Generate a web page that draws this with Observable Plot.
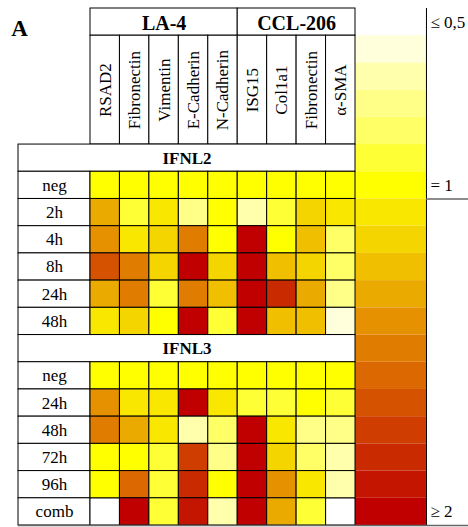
<!DOCTYPE html>
<html>
<head>
<meta charset="utf-8">
<script src="https://cdn.jsdelivr.net/npm/d3@7"></script>
<script src="https://cdn.jsdelivr.net/npm/@observablehq/plot@0.6"></script>
<style>
  html, body { margin: 0; padding: 0; background: #fff; }
  #chart svg { display: block; font-family: "Liberation Serif", serif !important; }
  #chart svg text { font-family: "Liberation Serif", serif !important; }
</style>
</head>
<body>
<div id="chart"></div>
<script>
// ---------- data ----------
const panelLabel = "A";
const cellLineNames = ["LA-4", "CCL-206"];
const cellLineGeneCounts = [5, 4];
const genes = ["RSAD2", "Fibronectin", "Vimentin", "E-Cadherin", "N-Cadherin",
               "ISG15", "Col1a1", "Fibronectin", "α-SMA"];

const ifnl2Name = "IFNL2";
const ifnl2Times = ["neg", "2h", "4h", "8h", "24h", "48h"];
const ifnl2Values = [
  [1, 1, 1, 1, 1, 1, 1, 1, 1],
  [1.33, 0.9, 1.08, 0.7, 1, 0.6, 0.9, 1.17, 1.08],
  [1.42, 1.08, 1.17, 1.5, 1, 2, 1, 1.25, 0.8],
  [1.67, 1.5, 1.17, 2, 1.17, 2, 1.25, 1.17, 0.8],
  [1.33, 1.5, 0.9, 1.5, 1.25, 2, 1.83, 1.33, 0.7],
  [1.08, 1.17, 1, 2, 0.9, 2, 1.25, 1.25, 0.5]
];

const ifnl3Name = "IFNL3";
const ifnl3Times = ["neg", "24h", "48h", "72h", "96h", "comb"];
const ifnl3Values = [
  [1, 1, 1, 1, 1, 1, 1, 1, 1],
  [1.42, 1.08, 1.08, 2, 1.08, 0.9, 0.9, 1, 0.9],
  [1.5, 1.33, 1.08, 0.6, 0.8, 2, 1.08, 0.7, 0.7],
  [1, 1, 0.9, 1.75, 0.7, 2, 1.17, 0.8, 0.6],
  [1, 1.58, 0.9, 1.83, 1, 2, 1.42, 1.08, 0.6],
  [null, 2, 0.9, 1.92, 0.6, 2, 1.33, 0.9, null]
];

// legend: value each block stands for, and its colour
const legendValues = [0.5, 0.6, 0.7, 0.8, 0.9, 1.0,
  1.083, 1.167, 1.25, 1.333, 1.417, 1.5, 1.583, 1.667, 1.75, 1.833, 1.917, 2.0];
const legendColors = ["#ffffdc", "#ffffac", "#ffff88", "#ffff66", "#ffff36", "#ffff00",
  "#fae700", "#f5d500", "#f0c000", "#ebaa00", "#e69200", "#e07c00",
  "#db6800", "#d55300", "#cf3e00", "#c92a00", "#c41500", "#c00000"];
const legendLabels = ["≤ 0,5", "= 1", "≥ 2"];
const legendLabelBlocks = [-1, 5, 17];   // block index each label sits beside

// ---------- layout (column / row units) ----------
const LX0 = -2.445;   // left edge of the row-label column
const LX1 = 11.41;    // right edge of the colour bar
const RX = 12.84;     // right edge of the picture
const FIRST_ROW = 5;

// thresholds between legend blocks
const thresholds = d3.pairs(legendValues).map(([a, b]) => (a + b) / 2);

// ---------- build tables ----------
const groups = [
  {name: ifnl2Name, times: ifnl2Times, values: ifnl2Values},
  {name: ifnl3Name, times: ifnl3Times, values: ifnl3Values}
];
const groupRows = [], labelRows = [], cells = [];
let r = FIRST_ROW;
for (const g of groups) {
  groupRows.push({name: g.name, row: r}); r++;
  g.times.forEach((t, i) => {
    labelRows.push({label: t, row: r});
    g.values[i].forEach((v, j) => cells.push({row: r, col: j, value: v}));
    r++;
  });
}
const lastRow = r;
let c0 = 0;
const cellLines = cellLineNames.map((n, i) => {
  const o = {name: n, x1: c0, x2: c0 + cellLineGeneCounts[i]};
  c0 += cellLineGeneCounts[i];
  return o;
});
const legendBlocks = legendValues.map((v, i) => ({value: v, row: i + 1}));
const legendText = legendLabels.map((t, i) => ({text: t, row: legendLabelBlocks[i] + 1}));

const FONT = "Liberation Serif";
const plot = Plot.plot({
  width: 468,
  height: 527,
  margin: 0,
  style: {fontFamily: FONT, background: "white", color: "black"},
  x: {type: "linear", domain: [0, 9], range: [90, 355], axis: null},
  y: {type: "linear", domain: [0, 19], range: [8, 525], axis: null},
  color: {type: "threshold", domain: thresholds, range: legendColors},
  marks: [
    // colour bar
    Plot.rect(legendBlocks, {x1: 9, x2: LX1, y1: "row", y2: d => d.row + 1, fill: "value"}),
    // cell-line header
    Plot.rect(cellLines, {x1: "x1", x2: "x2", y1: 0, y2: 1, fill: "white", stroke: "black"}),
    Plot.text(cellLines, {x: d => (d.x1 + d.x2) / 2, y: 0.5, text: "name", fontFamily: FONT,
      fontWeight: "bold", fontSize: 20, fill: "black", dy: 1}),
    // gene header
    Plot.rect(genes, {x1: (d, i) => i, x2: (d, i) => i + 1, y1: 1, y2: FIRST_ROW,
      fill: "white", stroke: "black"}),
    Plot.text(genes, {x: (d, i) => i + 0.5, y: (1 + FIRST_ROW) / 2, text: d => d,
      rotate: -90, fontSize: 17, fontFamily: FONT, fill: "black"}),
    // group rows
    Plot.rect(groupRows, {x1: LX0, x2: 9, y1: "row", y2: d => d.row + 1,
      fill: "white", stroke: "black"}),
    Plot.text(groupRows, {x: (LX0 + 9) / 2, y: d => d.row + 0.5, text: "name", fontFamily: FONT,
      fontWeight: "bold", fontSize: 17, fill: "black"}),
    // row labels
    Plot.rect(labelRows, {x1: LX0, x2: 0, y1: "row", y2: d => d.row + 1,
      fill: "white", stroke: "black"}),
    Plot.text(labelRows, {x: LX0 / 2, y: d => d.row + 0.5, text: "label", fontFamily: FONT,
      fontSize: 17, fill: "black"}),
    // heatmap cells
    Plot.rect(cells.filter(d => d.value == null), {x1: "col", x2: d => d.col + 1,
      y1: "row", y2: d => d.row + 1, fill: "white", stroke: "black"}),
    Plot.rect(cells.filter(d => d.value != null), {x1: "col", x2: d => d.col + 1,
      y1: "row", y2: d => d.row + 1, fill: "value", stroke: "black"}),
    // legend frame and labels
    Plot.ruleX([LX1], {y1: 0, y2: lastRow, stroke: "black"}),
    Plot.ruleY([legendBlocks[5].row + 1], {x1: LX1, x2: RX, stroke: "#666", strokeWidth: 1.5}),
    Plot.ruleY([lastRow], {x1: LX0, x2: RX, stroke: "#666", strokeWidth: 1.5}),
    Plot.text(legendText, {x: LX1, y: d => d.row + 0.5, text: "text", textAnchor: "start",
      dx: 4, fontSize: 17, fontFamily: FONT, fill: "black"}),
    // panel letter
    Plot.text([panelLabel], {x: -2.41, y: 0.75, text: d => d, fontWeight: "bold",
      fontSize: 23, fontFamily: FONT, fill: "black"})
  ]
});
document.getElementById("chart").appendChild(plot);
</script>
</body>
</html>
